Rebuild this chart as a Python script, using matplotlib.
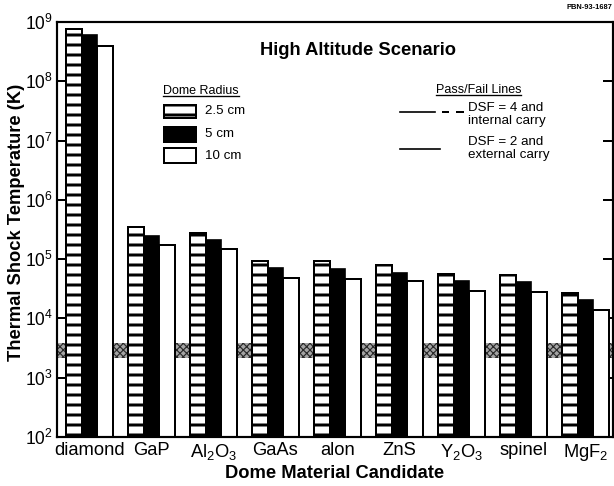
import numpy as np
import matplotlib
matplotlib.use('Agg')
import matplotlib.pyplot as plt
from matplotlib.patches import Rectangle

# data
materials = ['diamond', 'GaP', r'$\mathregular{Al_2O_3}$', 'GaAs', 'alon', 'ZnS',
             r'$\mathregular{Y_2O_3}$', 'spinel', r'$\mathregular{MgF_2}$']
temp_25 = [7.7e8, 3.5e5, 2.8e5, 9.4e4, 9.3e4, 8.0e4, 5.7e4, 5.3e4, 2.7e4]
temp_5 = [6.0e8, 2.5e5, 2.1e5, 7.2e4, 6.8e4, 5.8e4, 4.3e4, 4.1e4, 2.0e4]
temp_10 = [3.9e8, 1.7e5, 1.5e5, 4.8e4, 4.6e4, 4.3e4, 2.9e4, 2.8e4, 1.4e4]
radius_labels = ['2.5 cm', '5 cm', '10 cm']
pass_fail_labels = ['DSF = 4 and\ninternal carry', 'DSF = 2 and\nexternal carry']
band_low, band_high = 2150, 3900
decades = list(range(2, 10))

plt.rcParams['font.family'] = ['Liberation Sans', 'DejaVu Sans']
plt.rcParams['mathtext.fontset'] = 'custom'
plt.rcParams['mathtext.rm'] = 'Liberation Sans'
plt.rcParams['mathtext.it'] = 'Liberation Sans:italic'
plt.rcParams['mathtext.bf'] = 'Liberation Sans:bold'
plt.rcParams['hatch.linewidth'] = 1.8

DPI = 120
fig = plt.figure(figsize=(614 / DPI, 486 / DPI), dpi=DPI)
ax = fig.add_axes([57 / 614, 49 / 486, 556 / 614, 415 / 486])

x = np.arange(len(materials))
w = 0.253

# pass/fail band behind the bars
with plt.rc_context({'hatch.linewidth': 0.7}):
    ax.axhspan(band_low, band_high, facecolor='#a4a4a4', edgecolor='#2a2a2a',
               hatch='xxxxxx', linewidth=0, zorder=0)

ax.bar(x - w, temp_25, w, bottom=1e2, facecolor='white', edgecolor='black',
       hatch='--', linewidth=1.2, zorder=2)
ax.bar(x, temp_5, w, bottom=1e2, color='black', edgecolor='black',
       linewidth=1.0, zorder=2)
ax.bar(x + w, temp_10, w, bottom=1e2, facecolor='white', edgecolor='black',
       linewidth=1.2, zorder=2)

ax.set_yscale('log')
ax.set_ylim(1e2, 1e9)
ax.set_xlim(-0.524, 8.444)
ax.set_yticks([10.0 ** d for d in decades])
ax.set_yticklabels([r'$\mathregular{10^{%d}}$' % d for d in decades], fontsize=10.5)
ax.yaxis.set_minor_locator(matplotlib.ticker.NullLocator())
ax.tick_params(axis='y', direction='in', length=6, width=1.2, pad=2.5,
               right=True)
ax.set_xticks(x)
ax.set_xticklabels(materials, fontsize=11)
ax.tick_params(axis='x', length=0, pad=3)
for s in ax.spines.values():
    s.set_linewidth(1.3)

ax.set_ylabel('Thermal Shock Temperature (K)', fontsize=11, fontweight='bold')
ax.yaxis.set_label_coords(-0.058, 0.518)
ax.set_xlabel('Dome Material Candidate', fontsize=11, fontweight='bold')
ax.xaxis.set_label_coords(0.5, -0.068)

ax.text(0.541, 0.9325, 'High Altitude Scenario', transform=ax.transAxes,
        ha='center', va='center', fontsize=11, fontweight='bold')
fig.text(0.997, 0.984, 'PBN-93-1687', ha='right', va='center', fontsize=4.5,
         fontweight='bold')

# Dome Radius legend
t1 = ax.text(0.1906, 0.834, 'Dome Radius', transform=ax.transAxes,
             ha='left', va='center', fontsize=7.5)
box_y = [0.769, 0.711, 0.660]
box_h = [0.031, 0.036, 0.036]
styles = [dict(facecolor='white', hatch='--'), dict(facecolor='black'),
          dict(facecolor='white')]
for y0, h, st, lab in zip(box_y, box_h, styles, radius_labels):
    ax.add_patch(Rectangle((0.1924, y0), 0.0576, h, transform=ax.transAxes,
                           edgecolor='black', linewidth=1.2, **st))
    ax.text(0.266, y0 + h / 2, lab, transform=ax.transAxes, ha='left',
            va='center', fontsize=8)

# Pass/Fail legend
t2 = ax.text(0.758, 0.836, 'Pass/Fail Lines', transform=ax.transAxes,
             ha='center', va='center', fontsize=7.5)
ax.plot([0.617, 0.680], [0.783, 0.783], transform=ax.transAxes, color='k', lw=1)
ax.plot([0.694, 0.704], [0.783, 0.783], transform=ax.transAxes, color='k', lw=1.2)
ax.plot([0.720, 0.730], [0.783, 0.783], transform=ax.transAxes, color='k', lw=1.2)
ax.plot([0.617, 0.689], [0.694, 0.694], transform=ax.transAxes, color='k', lw=1)
for yc, lab in zip([0.778, 0.695], pass_fail_labels):
    ax.text(0.739, yc, lab, transform=ax.transAxes, ha='left', va='center',
            fontsize=8, linespacing=1.1)

# underline the legend titles
fig.canvas.draw()
inv = ax.transAxes.inverted()
for t in (t1, t2):
    bb = t.get_window_extent()
    (x0, y0), (x1, _) = inv.transform([(bb.x0, bb.y0), (bb.x1, bb.y1)])
    ax.plot([x0, x1], [y0 + 0.002, y0 + 0.002], transform=ax.transAxes,
            color='k', lw=0.8)

fig.savefig('out.png', dpi=DPI)
